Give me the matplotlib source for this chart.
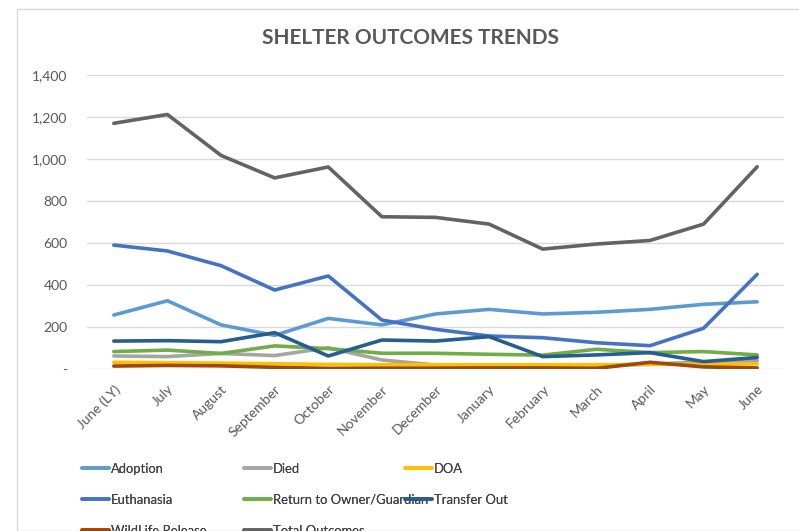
import matplotlib
matplotlib.use("Agg")
import matplotlib.pyplot as plt
from matplotlib.ticker import FuncFormatter, MultipleLocator
from matplotlib.patches import Rectangle

plt.rcParams['font.family'] = ['Lato', 'DejaVu Sans']

months = ["June (LY)", "July", "August", "September", "October", "November",
          "December", "January", "February", "March", "April", "May", "June"]

adoption = [257, 325, 210, 160, 241, 210, 262, 284, 262, 270, 284, 308, 320]
died = [62, 59, 74, 64, 101, 43, 19, 18, 15, 18, 22, 35, 40]
doa = [32, 30, 28, 25, 22, 20, 20, 20, 20, 20, 22, 22, 25]
euthanasia = [590, 562, 492, 376, 443, 233, 189, 157, 149, 125, 111, 194, 451]
rto = [83, 90, 74, 110, 97, 75, 75, 70, 66, 94, 78, 83, 67]
transfer = [133, 135, 130, 173, 62, 138, 133, 154, 59, 67, 78, 35, 55]
wildlife = [14, 17, 15, 8, 3, 4, 4, 5, 5, 3, 32, 10, 5]
total = [1170, 1212, 1017, 910, 962, 725, 722, 690, 571, 595, 612, 690, 963]

series = [
    ("Adoption", adoption, "#5B9BD5"),
    ("Died", died, "#A5A5A5"),
    ("DOA", doa, "#FFC000"),
    ("Euthanasia", euthanasia, "#4472C4"),
    ("Return to Owner/Guardian", rto, "#70AD47"),
    ("Transfer Out", transfer, "#255E91"),
    ("WildLife Release", wildlife, "#9E480E"),
    ("Total Outcomes", total, "#636363"),
]

fig = plt.figure(figsize=(7.99, 5.31), dpi=100)
W, H = 799, 531
fig.patches.append(Rectangle((17 / W, 0), 1.0, 1 - 9 / H, transform=fig.transFigure,
                             fill=False, edgecolor="#D9D9D9", linewidth=1.0))

ax = fig.add_axes([87 / W, 1 - 369 / H, (784 - 87) / W, (369 - 75) / H])
x = list(range(len(months)))
handles = {}
for name, vals, col in series:
    (ln,) = ax.plot(x, vals, color=col, linewidth=2.6, solid_capstyle="round",
                    solid_joinstyle="round", label=name)
    handles[name] = ln

ax.set_xlim(-0.5, len(months) - 0.5)
ax.set_ylim(0, 1400)
ax.yaxis.set_major_locator(MultipleLocator(200))
ax.yaxis.set_major_formatter(FuncFormatter(lambda v, p: "-" if v == 0 else f"{int(v):,}"))
ax.grid(axis="y", color="#D9D9D9", linewidth=1.0)
ax.set_axisbelow(True)
for s in ax.spines.values():
    s.set_visible(False)
ax.tick_params(axis="both", length=0, labelsize=10, colors="#595959")
ax.tick_params(axis="y", pad=14)
ax.set_xticks(x)
ax.set_xticklabels(months, rotation=45, ha="right", rotation_mode="anchor")
ax.tick_params(axis="x", pad=10)

fig.text(410 / W, 1 - 38 / H, "SHELTER OUTCOMES TRENDS", ha="center", va="center",
         fontsize=15, fontweight="bold", color="#595959")

cols = [["Adoption", "Euthanasia", "WildLife Release"],
        ["Died", "Return to Owner/Guardian", "Total Outcomes"],
        ["DOA", "Transfer Out"]]
xs = [82, 244, 405]
for cx, names in zip(xs, cols):
    leg = fig.legend([handles[n] for n in names], names, loc="upper left",
                     bbox_to_anchor=(cx / W, 1 - 463 / H), frameon=False,
                     fontsize=9.4, handlelength=2.1, handletextpad=0.1,
                     labelspacing=1.44, borderpad=0, borderaxespad=0,
                     labelcolor="#404040")
    fig.add_artist(leg)

fig.savefig("out.png", dpi=100)
